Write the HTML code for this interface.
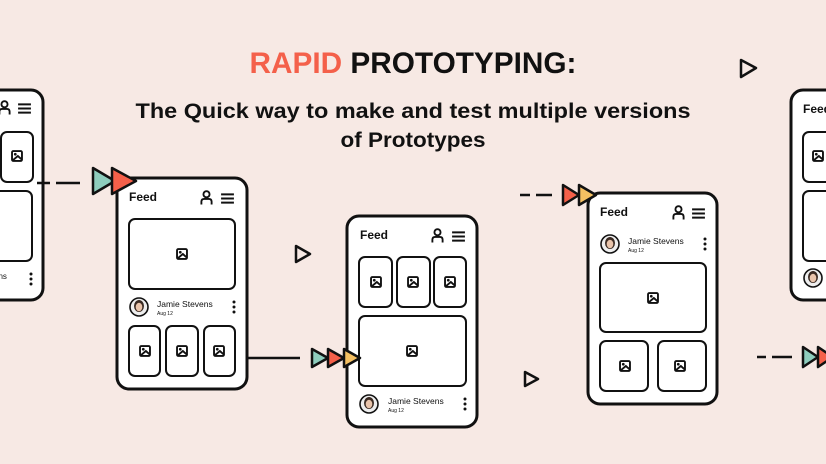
<!DOCTYPE html>
<html><head><meta charset="utf-8"><style>
html,body{margin:0;padding:0;background:#f7e9e4;}
svg{display:block}
text{font-family:"Liberation Sans",sans-serif;}
</style></head><body>
<svg width="826" height="464" viewBox="0 0 826 464" xmlns="http://www.w3.org/2000/svg">
<defs>
<symbol id="img" viewBox="0 0 14 14"><rect x="1.2" y="1.2" width="11.6" height="11.6" rx="1.5" fill="none" stroke="#111" stroke-width="2.2"/><circle cx="5" cy="5" r="1.6" fill="#111"/><path d="M1.5 12.5 L8 7 L12.5 11" fill="none" stroke="#111" stroke-width="2.2"/></symbol>
<symbol id="usr" viewBox="0 0 14 16"><circle cx="7" cy="4.5" r="3.3" fill="none" stroke="#111" stroke-width="2"/><path d="M1.5 15.5 V12.5 Q1.5 9.5 4.5 9.5 H9.5 Q12.5 9.5 12.5 12.5 V15.5" fill="none" stroke="#111" stroke-width="2"/></symbol>
<symbol id="ham" viewBox="0 0 14 12"><path d="M0 1.5H14M0 6H14M0 10.5H14" stroke="#111" stroke-width="2.2"/></symbol>
<symbol id="av" viewBox="0 0 20 20"><circle cx="10" cy="10" r="9" fill="#eee" stroke="#111" stroke-width="1.6"/><ellipse cx="10" cy="9" rx="5" ry="6" fill="#3a2a22"/><ellipse cx="10" cy="10" rx="3.3" ry="4.3" fill="#e9c4ab"/></symbol>
<symbol id="dots" viewBox="0 0 4 14"><circle cx="2" cy="2" r="1.5" fill="#111"/><circle cx="2" cy="7" r="1.5" fill="#111"/><circle cx="2" cy="12" r="1.5" fill="#111"/></symbol>
</defs>
<rect width="826" height="464" fill="#f7e9e4"/>

<!-- Title -->
<text x="413" y="73" text-anchor="middle" font-size="30" font-weight="bold" textLength="327" lengthAdjust="spacingAndGlyphs"><tspan fill="#f4604a">RAPID</tspan> <tspan fill="#111">PROTOTYPING:</tspan></text>
<text x="413" y="118" text-anchor="middle" font-size="21" font-weight="bold" fill="#111" textLength="555" lengthAdjust="spacingAndGlyphs">The Quick way to make and test multiple versions</text>
<text x="413" y="147" text-anchor="middle" font-size="21" font-weight="bold" fill="#111" textLength="145" lengthAdjust="spacingAndGlyphs">of Prototypes</text>

<!-- Phone 1 (partial left) -->
<g>
<rect x="-90" y="90" width="133" height="210" rx="12" fill="#fff" stroke="#111" stroke-width="3"/>
<use href="#usr" x="-2" y="100" width="13" height="15"/>
<use href="#ham" x="18" y="103" width="13" height="11"/>
<rect x="1" y="132" width="32" height="50" rx="6" fill="#fff" stroke="#111" stroke-width="2"/>
<use href="#img" x="11" y="150" width="12" height="12"/>
<rect x="-60" y="191" width="92" height="70" rx="6" fill="#fff" stroke="#111" stroke-width="2"/>
<text x="-6" y="279" font-size="8" fill="#111">ens</text>
<use href="#dots" x="29" y="272" width="4" height="14"/>
</g>

<!-- Phone 2 -->
<g>
<rect x="117" y="178" width="130" height="211" rx="12" fill="#fff" stroke="#111" stroke-width="3"/>
<text x="129" y="201" font-size="12" font-weight="bold" fill="#111">Feed</text>
<use href="#usr" x="200" y="190" width="13" height="15"/>
<use href="#ham" x="221" y="193" width="13" height="11"/>
<rect x="129" y="219" width="106" height="70" rx="6" fill="#fff" stroke="#111" stroke-width="2"/>
<use href="#img" x="176" y="248" width="12" height="12"/>
<use href="#av" x="129" y="297" width="20" height="20"/>
<text x="157" y="307" font-size="8.5" fill="#111">Jamie Stevens</text>
<text x="157" y="315" font-size="5" fill="#111">Aug 12</text>
<use href="#dots" x="232" y="300" width="4" height="14"/>
<rect x="129" y="326" width="31" height="50" rx="6" fill="#fff" stroke="#111" stroke-width="2"/>
<rect x="166" y="326" width="32" height="50" rx="6" fill="#fff" stroke="#111" stroke-width="2"/>
<rect x="204" y="326" width="31" height="50" rx="6" fill="#fff" stroke="#111" stroke-width="2"/>
<use href="#img" x="139" y="345" width="12" height="12"/>
<use href="#img" x="176" y="345" width="12" height="12"/>
<use href="#img" x="213" y="345" width="12" height="12"/>
</g>

<!-- Phone 3 -->
<g>
<rect x="347" y="216" width="130" height="211" rx="12" fill="#fff" stroke="#111" stroke-width="3"/>
<text x="360" y="239" font-size="12" font-weight="bold" fill="#111">Feed</text>
<use href="#usr" x="431" y="228" width="13" height="15"/>
<use href="#ham" x="452" y="231" width="13" height="11"/>
<rect x="359" y="257" width="33" height="50" rx="6" fill="#fff" stroke="#111" stroke-width="2"/>
<rect x="397" y="257" width="33" height="50" rx="6" fill="#fff" stroke="#111" stroke-width="2"/>
<rect x="434" y="257" width="32" height="50" rx="6" fill="#fff" stroke="#111" stroke-width="2"/>
<use href="#img" x="370" y="276" width="12" height="12"/>
<use href="#img" x="407" y="276" width="12" height="12"/>
<use href="#img" x="444" y="276" width="12" height="12"/>
<rect x="359" y="316" width="107" height="70" rx="6" fill="#fff" stroke="#111" stroke-width="2"/>
<use href="#img" x="406" y="345" width="12" height="12"/>
<use href="#av" x="359" y="394" width="20" height="20"/>
<text x="388" y="404" font-size="8.5" fill="#111">Jamie Stevens</text>
<text x="388" y="412" font-size="5" fill="#111">Aug 12</text>
<use href="#dots" x="463" y="397" width="4" height="14"/>
</g>

<!-- Phone 4 -->
<g>
<rect x="588" y="193" width="129" height="211" rx="12" fill="#fff" stroke="#111" stroke-width="3"/>
<text x="600" y="216" font-size="12" font-weight="bold" fill="#111">Feed</text>
<use href="#usr" x="672" y="205" width="13" height="15"/>
<use href="#ham" x="692" y="208" width="13" height="11"/>
<use href="#av" x="600" y="234" width="20" height="20"/>
<text x="628" y="244" font-size="8.5" fill="#111">Jamie Stevens</text>
<text x="628" y="252" font-size="5" fill="#111">Aug 12</text>
<use href="#dots" x="703" y="237" width="4" height="14"/>
<rect x="600" y="263" width="106" height="69" rx="6" fill="#fff" stroke="#111" stroke-width="2"/>
<use href="#img" x="647" y="292" width="12" height="12"/>
<rect x="600" y="341" width="48" height="50" rx="6" fill="#fff" stroke="#111" stroke-width="2"/>
<rect x="658" y="341" width="48" height="50" rx="6" fill="#fff" stroke="#111" stroke-width="2"/>
<use href="#img" x="619" y="360" width="12" height="12"/>
<use href="#img" x="674" y="360" width="12" height="12"/>
</g>

<!-- Phone 5 (partial right) -->
<g>
<rect x="791" y="90" width="130" height="210" rx="12" fill="#fff" stroke="#111" stroke-width="3"/>
<text x="803" y="113" font-size="12" font-weight="bold" fill="#111">Feed</text>
<rect x="803" y="132" width="50" height="50" rx="6" fill="#fff" stroke="#111" stroke-width="2"/>
<use href="#img" x="812" y="150" width="12" height="12"/>
<rect x="803" y="191" width="60" height="70" rx="6" fill="#fff" stroke="#111" stroke-width="2"/>
<use href="#av" x="803" y="268" width="20" height="20"/>
</g>

<!-- Connectors (on top) -->
<g stroke="#111" stroke-width="2.5" fill="none">
<path d="M37 183H50M56 183H80"/>
<path d="M248 358H300"/>
<path d="M520 195H530M536 195H552"/>
<path d="M757 357H766M772 357H792"/>
</g>
<g stroke="#111" stroke-width="2.5" stroke-linejoin="round">
<path d="M93 168 L115 181 L93 194Z" fill="#8ecdbd"/>
<path d="M112 168 L136 181 L112 194Z" fill="#f4604a"/>
<path d="M312 349 L328 358 L312 367Z" fill="#8ecdbd"/>
<path d="M328 349 L344 358 L328 367Z" fill="#f4604a"/>
<path d="M344 349 L360 358 L344 367Z" fill="#f5c062"/>
<path d="M563 185 L579 195 L563 205Z" fill="#f4604a"/>
<path d="M579 185 L596 195 L579 205Z" fill="#f5c062"/>
<path d="M803 347 L818 357 L803 367Z" fill="#8ecdbd"/>
<path d="M818 347 L833 357 L818 367Z" fill="#f4604a"/>
<path d="M296 246 L310 254 L296 262Z" fill="none"/>
<path d="M525 372 L538 379 L525 386Z" fill="none"/>
<path d="M741 60 L756 68 L741 77Z" fill="none"/>
</g>
</svg>
</body></html>
